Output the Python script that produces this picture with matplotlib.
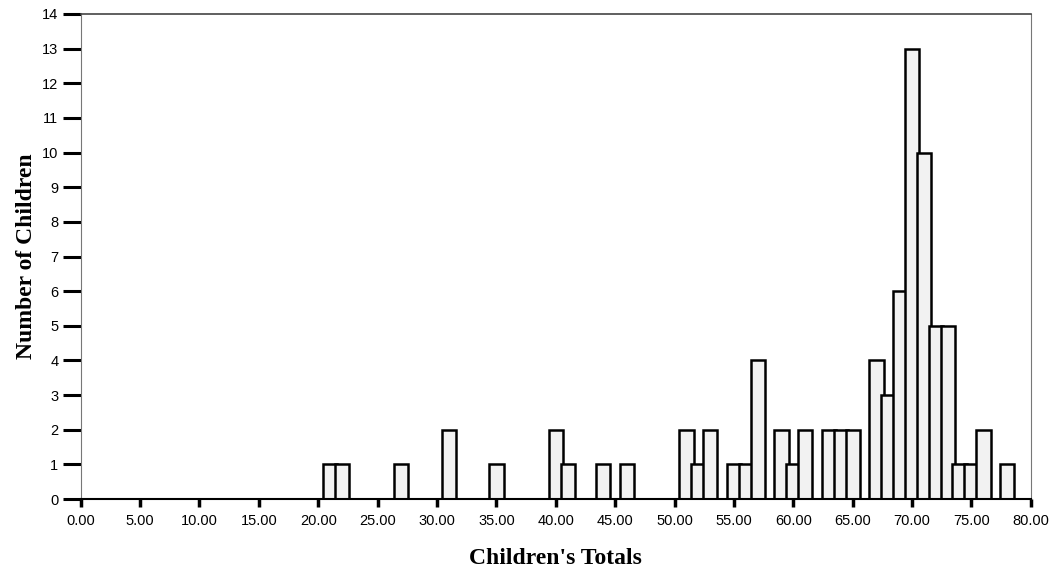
import matplotlib.pyplot as plt

# Children's totals (integer score) and how many children got each one
totals = [21, 22, 27, 31, 35, 40, 41, 44, 46, 51, 52, 53, 55, 56, 57, 59, 60, 61,
          63, 64, 65, 67, 68, 69, 70, 71, 72, 73, 74, 75, 76, 78]
counts = [1, 1, 1, 2, 1, 2, 1, 1, 1, 2, 1, 2, 1, 1, 4, 2, 1, 2,
          2, 2, 2, 4, 3, 6, 13, 10, 5, 5, 1, 1, 2, 1]

x_ticks = list(range(0, 81, 5))
y_ticks = list(range(0, 15))

fig = plt.figure(figsize=(10.53, 5.73), dpi=100)
ax = fig.add_axes([0.0766, 0.129, 0.9024, 0.8466])

ax.bar(totals, counts, width=1.2, color='#f2f2f2', edgecolor='black',
       linewidth=1.8, align='center', zorder=2)

ax.set_xlim(0, 80)
ax.set_ylim(0, 14)
ax.set_xticks(x_ticks)
ax.set_xticklabels(['%.2f' % v for v in x_ticks])
ax.set_yticks(y_ticks)

ax.tick_params(axis='x', direction='out', length=6, width=2.5, pad=5,
               labelsize=10.5)
ax.tick_params(axis='y', direction='out', length=13, width=2.2, pad=3,
               labelsize=10.5)
for lbl in ax.get_xticklabels() + ax.get_yticklabels():
    lbl.set_fontfamily('Liberation Sans')

ax.spines['bottom'].set_linewidth(1.5)
ax.spines['top'].set_color('#444444')
ax.spines['top'].set_linewidth(1.2)
ax.spines['left'].set_color('#777777')
ax.spines['left'].set_linestyle((0, (1, 1)))
ax.spines['right'].set_color('#777777')
ax.spines['right'].set_linestyle((0, (1, 1)))

ax.set_xlabel("Children's Totals", fontfamily='Liberation Serif',
              fontweight='bold', fontsize=17, labelpad=14)
ax.set_ylabel('Number of Children', fontfamily='Liberation Serif',
              fontweight='bold', fontsize=17, labelpad=4)

plt.savefig('out.png', dpi=100)
plt.close()
